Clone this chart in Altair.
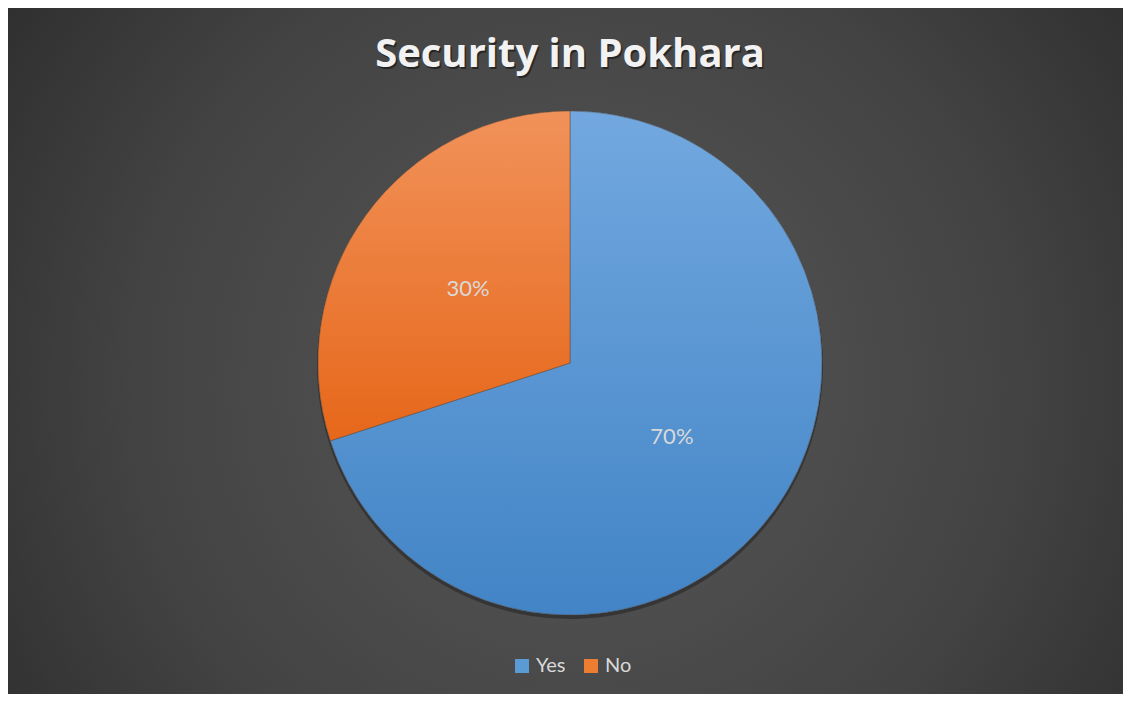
import altair as alt
import pandas as pd

# ---- data ----
categories = ["Yes", "No"]
values = [70, 30]
colors = ["#5b9bd5", "#ed7d31"]
chart_title = "Security in Pokhara"

# ---- layout ----
W, H = 1115, 686
CX = 562
CY = 355
R = 252

df = pd.DataFrame({
    "category": categories,
    "value": values,
    "order": list(range(len(categories))),
})

base = alt.Chart(df).encode(
    theta=alt.Theta("value:Q", stack=True),
    order=alt.Order("order:Q"),
)

bg_grad = {
    "gradient": "radial",
    "x1": 0.51, "y1": 0.53, "r1": 0,
    "x2": 0.51, "y2": 0.53, "r2": 0.72,
    "stops": [
        {"offset": 0, "color": "#585858"},
        {"offset": 0.55, "color": "#434343"},
        {"offset": 1, "color": "#262626"},
    ],
}

bg = alt.Chart(pd.DataFrame({"k": [0]})).mark_rect(fill=bg_grad).encode(
    x=alt.value(0), x2=alt.value(W), y=alt.value(0), y2=alt.value(H)
)

shadow = base.mark_arc(radius=R + 1, color="black", opacity=0.3).encode(
    x=alt.value(CX), y=alt.value(CY + 3)
)

pie_legend = base.mark_arc(radius=R).encode(
    color=alt.Color(
        "category:N",
        scale=alt.Scale(domain=categories, range=colors),
        legend=alt.Legend(
            title=None,
            orient="none",
            legendX=504,
            legendY=648,
            direction="horizontal",
            symbolType="square",
            symbolSize=196,
            symbolStrokeWidth=0,
            labelFontSize=20,
            labelFont="Lato",
            labelColor="#d9d9d9",
            labelOffset=4,
            columnPadding=15,
            padding=0,
        ),
    ),
    x=alt.value(CX),
    y=alt.value(CY),
)

yes_grad = {
    "gradient": "linear", "x1": 0, "y1": 0, "x2": 0, "y2": 1,
    "stops": [
        {"offset": 0, "color": "#72a8df"},
        {"offset": 1, "color": "#4284c6"},
    ],
}
no_grad = {
    "gradient": "linear", "x1": 0, "y1": 0, "x2": 0, "y2": 1,
    "stops": [
        {"offset": 0, "color": "#f1925a"},
        {"offset": 1, "color": "#e6671a"},
    ],
}

pie = base.mark_arc(radius=R, stroke="#5a4a40", strokeWidth=0.8, strokeOpacity=0.6).encode(
    fill=alt.condition(alt.datum.category == "Yes", alt.value(yes_grad), alt.value(no_grad)),
    x=alt.value(CX),
    y=alt.value(CY),
)

labels = base.mark_text(
    radius=R / 2, font="Lato", fontSize=22, color="#d9d9d9"
).encode(
    text=alt.Text("label:N"),
    x=alt.value(CX),
    y=alt.value(CY),
).transform_calculate(label="datum.value + '%'")

title_df = pd.DataFrame({"t": [chart_title]})
title_shadow = alt.Chart(title_df).mark_text(
    font="Open Sans", fontSize=40, fontWeight="bold", color="black", opacity=0.45,
    baseline="alphabetic",
).encode(text="t:N", x=alt.value(CX + 1.5), y=alt.value(61))
title = alt.Chart(title_df).mark_text(
    font="Open Sans", fontSize=40, fontWeight="bold", color="#f2f2f2",
    baseline="alphabetic",
).encode(text="t:N", x=alt.value(CX), y=alt.value(59))

chart = alt.layer(bg, shadow, pie_legend, pie, labels, title_shadow, title).properties(
    width=W, height=H, autosize=alt.AutoSizeParams(type="none"), padding=0,
    background="white",
).configure_view(stroke=None)

chart.save("out.html", embed_options={"renderer": "svg", "actions": False})
